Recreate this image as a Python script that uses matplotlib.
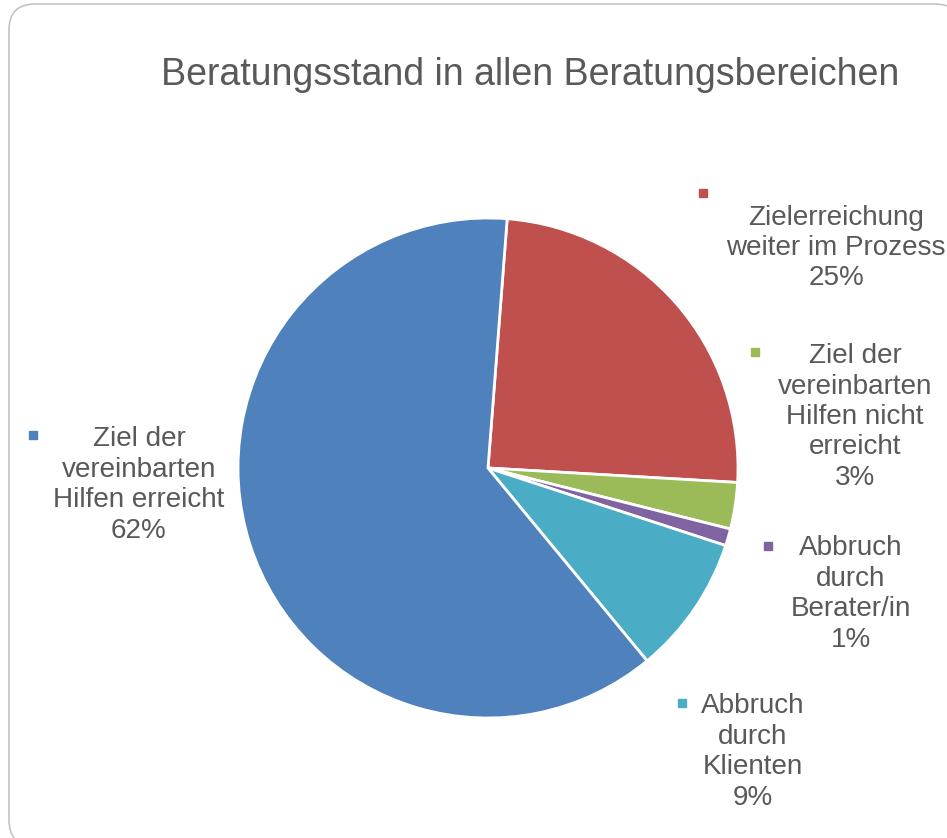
import matplotlib
matplotlib.use("Agg")
import matplotlib.pyplot as plt
from matplotlib.patches import FancyBboxPatch

plt.rcParams['font.family'] = ['Liberation Sans', 'DejaVu Sans']

W, H = 947, 838

# data, clockwise from 12 o'clock
categories = ["Zielerreichung\nweiter im Prozess",
              "Ziel der\nvereinbarten\nHilfen nicht\nerreicht",
              "Abbruch\ndurch\nBerater/in",
              "Abbruch\ndurch\nKlienten",
              "Ziel der\nvereinbarten\nHilfen erreicht"]
shares = [24.7, 3.0, 1.1, 9.0, 62.2]
colors = ["#C0504D", "#9BBB59", "#8064A2", "#4BACC6", "#4F81BD"]

# label layout (image pixels): text centre and legend key
label_pos = [(836, 248), (855, 417), (851, 594), (753, 752), (139, 485)]
key_pos = [(703, 193), (755, 352), (768, 546), (682, 703), (33, 435)]

text_col = "#595959"


def px(x, y):
    return x, H - y


fig = plt.figure(figsize=(W / 100, H / 100), dpi=100)
ax = fig.add_axes([0, 0, 1, 1])
ax.axis('off')

# chart frame
frame = FancyBboxPatch(px(9, 846), 952, 842,
                       boxstyle="round,pad=0,rounding_size=26",
                       fc="white", ec="#BFBFBF", lw=1.1, zorder=0)
ax.add_patch(frame)

ax.pie(shares, colors=colors, startangle=85.6, counterclock=False,
       center=px(488, 468), radius=250,
       wedgeprops=dict(edgecolor="white", linewidth=2.0))
ax.set_xlim(0, W)
ax.set_ylim(0, H)
ax.set_aspect('equal')

for lab, val, c, (tx, ty), (kx, ky) in zip(categories, shares, colors,
                                            label_pos, key_pos):
    ax.text(*px(tx, ty), f"{lab}\n{round(val):d}%", ha='center', va='center',
            fontsize=20.1, color=text_col, linespacing=1.22)
    ax.plot(*px(kx, ky), marker='s', ms=6, color=c, ls='none')

ax.text(*px(530, 75), "Beratungsstand in allen Beratungsbereichen",
        ha='center', va='center', fontsize=27, color=text_col)

fig.savefig("out.png", dpi=100)
